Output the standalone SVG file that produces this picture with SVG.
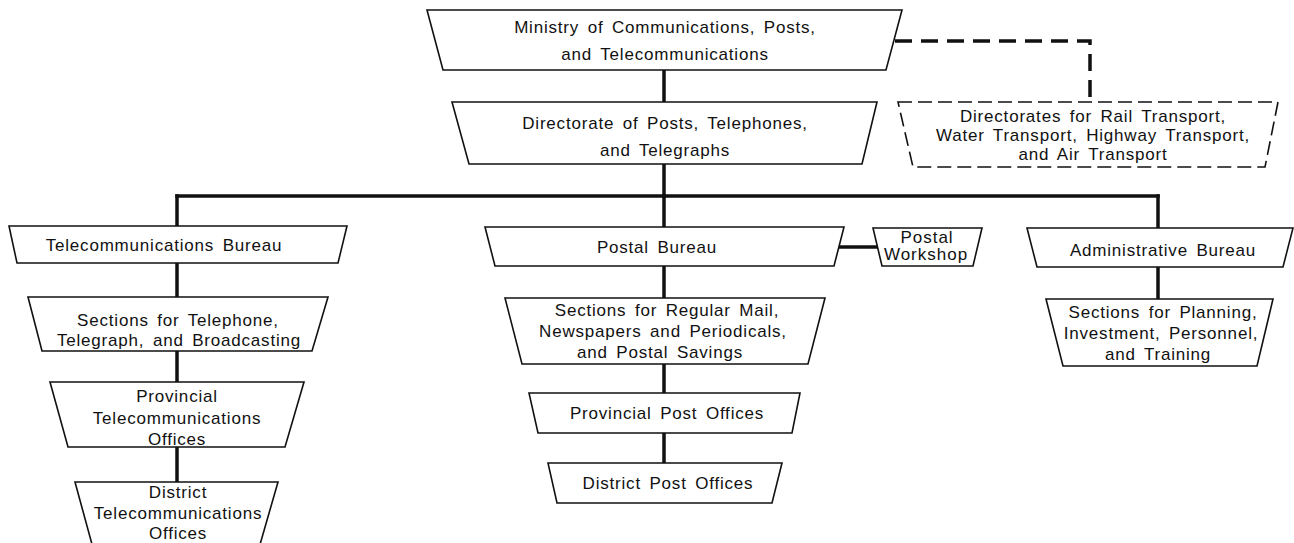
<svg xmlns="http://www.w3.org/2000/svg" width="1294" height="543" viewBox="0 0 1294 543">
  <style>
    .box { fill: #fff; stroke: #111; stroke-width: 1.6; stroke-linejoin: miter; }
    .dbox { fill: #fff; stroke: #111; stroke-width: 1.6; stroke-dasharray: 14 6; }
    .link { fill: none; stroke: #111; stroke-width: 3.5; stroke-linecap: square; }
    .dlink { fill: none; stroke: #111; stroke-width: 3.5; stroke-dasharray: 17 9; }
    text { font-family: "Liberation Sans", Arial, sans-serif; font-size: 17px; fill: #111; text-anchor: middle; letter-spacing: 0.8px; word-spacing: 3px; }
    .sm { letter-spacing: 1px; }
  </style>
  <rect width="1294" height="543" fill="#fff"/>

  <!-- connectors -->
  <g id="connectors">
    <path class="link" d="M664 70 V102"/>
    <path class="link" d="M664 164 V196"/>
    <path class="link" d="M177 196 H1158"/>
    <path class="link" d="M177 196 V226"/>
    <path class="link" d="M664 196 V227"/>
    <path class="link" d="M1158 196 V228"/>
    <path class="link" d="M177 263 V297"/>
    <path class="link" d="M177 351 V382"/>
    <path class="link" d="M177 447 V482"/>
    <path class="link" d="M664 266 V298"/>
    <path class="link" d="M664 364 V393"/>
    <path class="link" d="M664 433 V463"/>
    <path class="link" d="M1158 267 V299"/>
    <path class="link" d="M836 247 H876"/>
    <path class="dlink" d="M895 41 H1090 V102"/>
  </g>

  <g id="ministry">
    <polygon class="box" points="427,10 902,10 886,70 443,70"/>
    <text x="665" y="33">Ministry of Communications, Posts,</text>
    <text x="665" y="60">and Telecommunications</text>
  </g>

  <g id="directorate">
    <polygon class="box" points="452,102 877,102 862,164 469,164"/>
    <text x="665" y="129">Directorate of Posts, Telephones,</text>
    <text x="665" y="156">and Telegraphs</text>
  </g>

  <g id="transport-directorates">
    <polygon class="dbox" points="898,102 1278,102 1265,167 913,167"/>
    <text x="1093" y="122">Directorates for Rail Transport,</text>
    <text x="1093" y="141">Water Transport, Highway Transport,</text>
    <text x="1093" y="160">and Air Transport</text>
  </g>

  <g id="telecom-bureau">
    <polygon class="box" points="9,226 347,226 338,263 17,263"/>
    <text x="164" y="251">Telecommunications Bureau</text>
  </g>

  <g id="telecom-sections">
    <polygon class="box" points="28,297 328,297 312,351 42,351"/>
    <text x="178" y="326">Sections for Telephone,</text>
    <text x="179" y="346">Telegraph, and Broadcasting</text>
  </g>

  <g id="provincial-telecom">
    <polygon class="box" points="50,382 304,382 285,447 68,447"/>
    <text x="177" y="402">Provincial</text>
    <text x="177" y="424">Telecommunications</text>
    <text x="177" y="445">Offices</text>
  </g>

  <g id="district-telecom">
    <polyline class="box" points="93,548 75,482 278,482 259,548"/>
    <text x="178" y="498">District</text>
    <text x="178" y="519">Telecommunications</text>
    <text x="178" y="539">Offices</text>
  </g>

  <g id="postal-bureau">
    <polygon class="box" points="485,227 844,227 834,266 495,266"/>
    <text x="657" y="253">Postal Bureau</text>
  </g>

  <g id="postal-workshop">
    <polygon class="box" points="873,228 982,228 973,266 882,266"/>
    <text class="sm" x="927" y="243">Postal</text>
    <text class="sm" x="926" y="260">Workshop</text>
  </g>

  <g id="postal-sections">
    <polygon class="box" points="505,298 825,298 808,364 522,364"/>
    <text x="667" y="316">Sections for Regular Mail,</text>
    <text x="663" y="337">Newspapers and Periodicals,</text>
    <text x="660" y="358">and Postal Savings</text>
  </g>

  <g id="provincial-post">
    <polygon class="box" points="529,393 800,393 792,433 538,433"/>
    <text x="667" y="419">Provincial Post Offices</text>
  </g>

  <g id="district-post">
    <polygon class="box" points="548,463 782,463 772,503 557,503"/>
    <text x="668" y="489">District Post Offices</text>
  </g>

  <g id="admin-bureau">
    <polygon class="box" points="1027,228 1293,228 1283,267 1037,267"/>
    <text x="1163" y="256">Administrative Bureau</text>
  </g>

  <g id="admin-sections">
    <polygon class="box" points="1046,299 1273,299 1257,366 1063,366"/>
    <text x="1163" y="318">Sections for Planning,</text>
    <text x="1161" y="339">Investment, Personnel,</text>
    <text x="1158" y="360">and Training</text>
  </g>
</svg>
